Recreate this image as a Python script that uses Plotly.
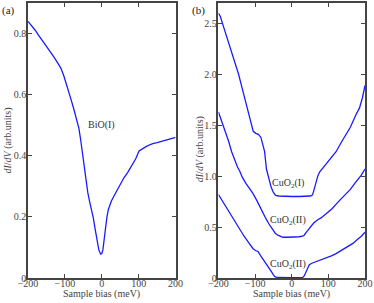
import plotly.graph_objects as go

# ---- data ----
bias_a = [-200,-190,-180,-172,-160,-150,-140,-130,-120,-111,-103,-95,-88,-82,-75,-68,-62,-57,-53,-48,-43,-38,-33,-28,-23,-18,-12,-8,-3,0,3,6,10,14,18,22,26,32,40,50,60,70,78,85,92,101,110,120,130,138,150,160,170,180,190,200]
didv_bio = [0.840,0.826,0.810,0.796,0.776,0.759,0.741,0.724,0.705,0.687,0.662,0.633,0.604,0.579,0.549,0.518,0.490,0.450,0.416,0.372,0.315,0.280,0.250,0.225,0.197,0.160,0.115,0.092,0.078,0.080,0.092,0.125,0.160,0.200,0.225,0.242,0.252,0.266,0.284,0.310,0.328,0.345,0.360,0.375,0.390,0.416,0.424,0.430,0.436,0.440,0.443,0.446,0.449,0.453,0.456,0.460]

bias_cu1 = [-200,-195,-189,-180,-170,-160,-150,-145,-135,-125,-115,-110,-105,-98,-91,-84,-78,-74,-69,-62,-56,-50,-44,-35,-20,0,20,40,50,55,58,62,66,71,76,85,100,110,121,135,150,160,175,185,193,200]
didv_cu1 = [2.60,2.57,2.50,2.40,2.29,2.18,2.07,2.00,1.86,1.72,1.58,1.50,1.44,1.42,1.41,1.38,1.31,1.24,1.07,0.97,0.89,0.84,0.81,0.805,0.80,0.80,0.80,0.80,0.805,0.81,0.83,0.88,0.94,1.00,1.04,1.08,1.14,1.19,1.24,1.33,1.42,1.48,1.60,1.67,1.77,1.89]

bias_cu2 = [-200,-194,-187,-180,-172,-164,-155,-148,-142,-135,-125,-115,-106,-95,-86,-78,-70,-62,-56,-51,-45,-38,-30,-24,-10,0,10,20,30,34,40,46,53,60,70,80,94,110,125,139,150,160,170,180,190,200]
didv_cu2 = [1.63,1.57,1.50,1.43,1.34,1.24,1.15,1.09,1.05,0.99,0.93,0.88,0.83,0.76,0.69,0.63,0.58,0.53,0.50,0.47,0.44,0.42,0.405,0.40,0.40,0.40,0.40,0.405,0.41,0.42,0.45,0.48,0.51,0.54,0.57,0.59,0.63,0.68,0.74,0.79,0.83,0.87,0.92,0.96,1.01,1.07]

bias_cu3 = [-200,-190,-180,-169,-160,-150,-142,-130,-118,-106,-99,-92,-85,-77,-69,-62,-55,-50,-46,-40,-30,-20,-10,0,10,20,30,34,38,42,48,55,67,80,95,110,121,135,150,167,180,190,200]
didv_cu3 = [0.82,0.76,0.70,0.64,0.58,0.52,0.48,0.41,0.35,0.29,0.27,0.26,0.22,0.18,0.14,0.10,0.06,0.03,0.013,0.005,0.003,0.002,0.003,0.003,0.003,0.004,0.006,0.02,0.05,0.09,0.13,0.145,0.16,0.18,0.20,0.22,0.24,0.27,0.30,0.34,0.38,0.41,0.45]

x_ticks = [-200, -100, 0, 100, 200]
ya_ticks = [0, 0.2, 0.4, 0.6, 0.8]
ya_text = ["0", "0.2", "0.4", "0.6", "0.8"]
yb_ticks = [0, 0.5, 1.0, 1.5, 2.0, 2.5]
yb_text = ["0", "0.5", "1.0", "1.5", "2.0", "2.5"]

FONT = "Liberation Serif"
BLUE = "#1a1aff"
line = dict(color=BLUE, width=1.3)

fig = go.Figure()
fig.add_trace(go.Scatter(x=bias_a, y=didv_bio, mode="lines", line=line, xaxis="x", yaxis="y"))
for bx, by in [(bias_cu1, didv_cu1), (bias_cu2, didv_cu2), (bias_cu3, didv_cu3)]:
    fig.add_trace(go.Scatter(x=bx, y=by, mode="lines", line=line, xaxis="x2", yaxis="y2"))

axcommon = dict(showline=True, linecolor="#444", linewidth=1.5, mirror="ticks",
                ticks="inside", ticklen=4, tickcolor="#444", showgrid=False, zeroline=False,
                tickfont=dict(family=FONT, size=10, color="#444"))
xstand = dict(ticklabelstandoff=-5)
ystand = dict(ticklabelstandoff=-2)

fig.update_layout(
    width=374, height=303,
    margin=dict(l=28, r=8, t=1, b=25),
    paper_bgcolor="white", plot_bgcolor="white",
    showlegend=False,
    font=dict(family=FONT, size=10, color="#444"),
    xaxis=dict(domain=[0, 0.4379], range=[-200, 200], tickvals=x_ticks, anchor="y", **axcommon, **xstand),
    yaxis=dict(domain=[0, 1], range=[0, 0.9], tickvals=ya_ticks, ticktext=ya_text, anchor="x", **axcommon, **ystand),
    xaxis2=dict(domain=[0.5651, 1], range=[-200, 200], tickvals=x_ticks, anchor="y2", **axcommon, **xstand),
    yaxis2=dict(domain=[0, 1], range=[0, 2.7], tickvals=yb_ticks, ticktext=yb_text, anchor="x2", **axcommon, **ystand),
)

C = dict(xanchor="center", yanchor="middle", showarrow=False)
ann = []
ann.append(dict(text="BiO(I)", x=0, y=0.50, xref="x", yref="y", font=dict(family=FONT, size=10, color="#333"), **C))
for lbl, yy in [("CuO<sub>2</sub>(I)", 0.93), ("CuO<sub>2</sub>(II)", 0.56), ("CuO<sub>2</sub>(II)", 0.13)]:
    ann.append(dict(text=lbl, x=-10, y=yy, xref="x2", yref="y2", font=dict(family=FONT, size=10, color="#333"), **C))
ann.append(dict(text="(a)", x=(8-28)/338, y=(278-9)/277, xref="paper", yref="paper", font=dict(family=FONT, size=11, color="#222"), **C))
ann.append(dict(text="(b)", x=(199-28)/338, y=(278-9)/277, xref="paper", yref="paper", font=dict(family=FONT, size=11, color="#222"), **C))
ytitle = "<i>dI</i>/<i>dV</i> (arb.units)"
ann.append(dict(text=ytitle, x=(7-28)/338, y=0.5, xref="paper", yref="paper", textangle=-90, font=dict(family=FONT, size=10, color="#444"), **C))
ann.append(dict(text=ytitle, x=(200-28)/338, y=0.47, xref="paper", yref="paper", textangle=-90, font=dict(family=FONT, size=10, color="#444"), **C))
ann.append(dict(text="Sample bias (meV)", x=(102-28)/338, y=(278-294)/277, xref="paper", yref="paper", font=dict(family=FONT, size=10, color="#444"), **C))
ann.append(dict(text="Sample bias (meV)", x=(292-28)/338, y=(278-294)/277, xref="paper", yref="paper", font=dict(family=FONT, size=10, color="#444"), **C))
fig.update_layout(annotations=ann)

fig.write_html("out.html", config={"displayModeBar": False},
               post_script="document.body.style.margin='0px';document.body.style.overflow='hidden';")
